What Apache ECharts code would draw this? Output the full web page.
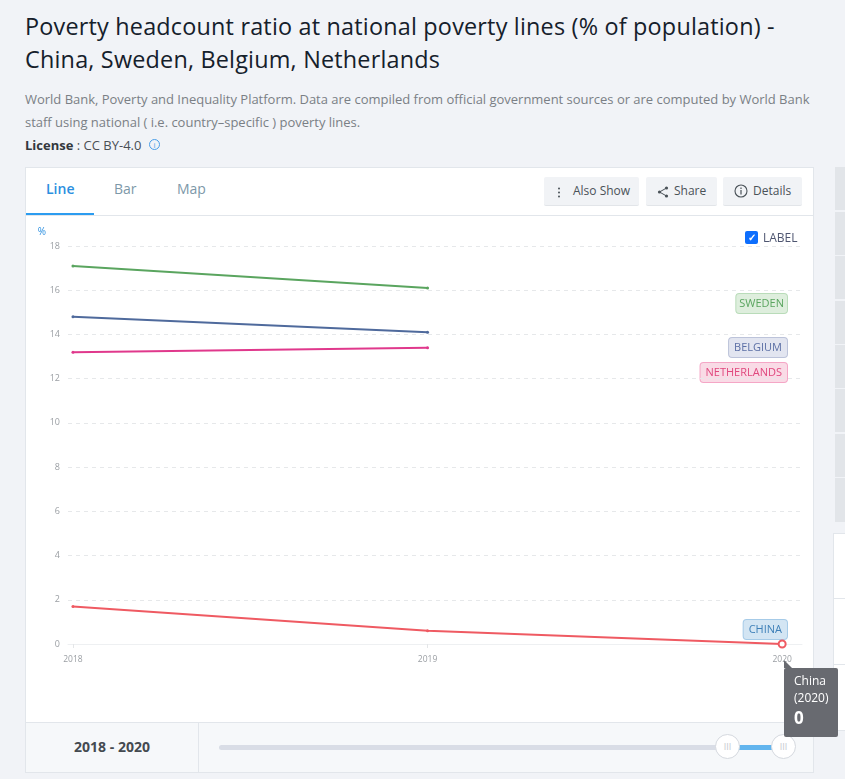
<!DOCTYPE html>
<html lang="en">
  <head>
    <meta charset="UTF-8" />
    <title>Poverty headcount ratio</title>
    <script src="https://cdn.jsdelivr.net/npm/echarts@6/dist/echarts.min.js"></script>
    <style>
      html, body {
        margin: 0;
        width: 845px;
        height: 779px;
        overflow: hidden;
        background: #f1f3f7;
        font-family: "Open Sans", sans-serif;
      }

      div, h1, p, span, svg { position: absolute; margin: 0; white-space: nowrap; }

      #title {
        left: 25px;
        top: 10px;
        font-size: 23.4px;
        font-weight: 500;
        line-height: 33px;
        color: #15202b;
        letter-spacing: 0.2px;
      }

      #source {
        left: 25px;
        top: 88px;
        font-size: 13px;
        line-height: 23px;
        color: #7a7f85;
        letter-spacing: -0.015px;
      }

      #license { left: 25px; top: 136px; font-size: 13px; line-height: 18px; color: #4a4f55; }
      #license b { color: #33383d; }

      #infoIcon {
        left: 149px;
        top: 139px;
        width: 9px;
        height: 9px;
        border: 1px solid #4a9ee8;
        border-radius: 50%;
        color: #4a9ee8;
        font-size: 8px;
        line-height: 9px;
        text-align: center;
      }

      #card {
        left: 25px;
        top: 167px;
        width: 787px;
        height: 604px;
        background: #fff;
        border: 1px solid #e2e6eb;
      }

      .tab { top: 11px; font-size: 14px; line-height: 20px; color: #7d98a8; }
      #tabLine { left: 0; top: 47px; width: 787px; height: 1px; background: #e2e6eb; }
      #tabActive { left: 0; top: 45px; width: 68px; height: 2px; background: #2b9cf0; }

      .btn {
        top: 9px;
        height: 28px;
        background: #f1f3f6;
        border-bottom: 1px solid #e2e5e9;
        border-radius: 2px;
        font-size: 12px;
        line-height: 28px;
        color: #4a5258;
      }
      .btn span { top: 0; }

      #labelBox {
        left: 719px;
        top: 63px;
        width: 13px;
        height: 13px;
        background: #0d6efd;
        border-radius: 2px;
        color: #fff;
        font-size: 10px;
        line-height: 13px;
        text-align: center;
        font-weight: 700;
      }
      #labelText { left: 737px; top: 61px; font-size: 12px; line-height: 17px; color: #4e5570; }

      #chart { left: 0; top: 48px; width: 787px; height: 506px; }

      #footer {
        left: 0;
        top: 554px;
        width: 787px;
        height: 49px;
        background: #f6f8fa;
        border-top: 1px solid #e2e6eb;
      }
      #range {
        left: 0;
        top: 0;
        width: 172px;
        height: 49px;
        border-right: 1px solid #e2e6eb;
        text-align: center;
        font-size: 14px;
        font-weight: 700;
        line-height: 48px;
        color: #444a50;
      }
      #track { left: 193px; top: 22px; width: 553px; height: 5px; background: #d9dde6; border-radius: 3px; }
      #trackOn { left: 712px; top: 22px; width: 45px; height: 5px; background: #62b5ee; }
      .handle {
        top: 11px;
        width: 23px;
        height: 23px;
        background: #fff;
        border: 1px solid #d5d9df;
        border-radius: 50%;
        color: #c4c8ce;
        font-size: 9px;
        line-height: 23px;
        text-align: center;
      }

      .side { left: 835px; width: 10px; height: 43px; background: #e2e5e9; }
      .sideBox { left: 833px; width: 12px; background: #fff; border: 1px solid #e2e6eb; }
    </style>
  </head>

  <body>
    <h1 id="title">Poverty headcount ratio at national poverty lines (% of population) -<br />China, Sweden, Belgium, Netherlands</h1>
    <p id="source">World Bank, Poverty and Inequality Platform. Data are compiled from official government sources or are computed by World Bank<br />staff using national ( i.e. country–specific ) poverty lines.</p>
    <p id="license"><b>License</b> : CC BY-4.0</p>
    <div id="infoIcon">i</div>

    <div class="side" style="top: 167px"></div>
    <div class="side" style="top: 212px"></div>
    <div class="side" style="top: 256px"></div>
    <div class="side" style="top: 301px"></div>
    <div class="side" style="top: 345px"></div>
    <div class="side" style="top: 389px"></div>
    <div class="side" style="top: 434px"></div>
    <div class="side" style="top: 478px; height: 44px"></div>
    <div class="sideBox" style="top: 533px; height: 64px"></div>
    <div class="sideBox" style="top: 598px; height: 65px"></div>
    <div class="sideBox" style="top: 664px; height: 65px"></div>

    <div id="card">
      <span class="tab" style="left: 20px; color: #2b8fe0; font-weight: 600">Line</span>
      <span class="tab" style="left: 88px">Bar</span>
      <span class="tab" style="left: 151px">Map</span>
      <div id="tabLine"></div>
      <div id="tabActive"></div>
      <div class="btn" style="left: 518px; width: 95px">
        <svg style="left: 13px; top: 10px" width="4" height="11"><circle cx="2" cy="1.5" r="1" fill="#4a5258" /><circle cx="2" cy="5.5" r="1" fill="#4a5258" /><circle cx="2" cy="9.5" r="1" fill="#4a5258" /></svg>
        <span style="left: 29px">Also Show</span>
      </div>
      <div class="btn" style="left: 620px; width: 71px">
        <svg style="left: 11px; top: 9px" width="12" height="12"><path d="M9.5 2 L2.5 6 L9.5 10" fill="none" stroke="#4a5258" stroke-width="1" /><circle cx="9.5" cy="2" r="1.6" fill="#4a5258" /><circle cx="2.5" cy="6" r="1.6" fill="#4a5258" /><circle cx="9.5" cy="10" r="1.6" fill="#4a5258" /></svg>
        <span style="left: 28px">Share</span>
      </div>
      <div class="btn" style="left: 697px; width: 79px">
        <svg style="left: 11px; top: 7px" width="14" height="14"><circle cx="7" cy="7" r="6" fill="none" stroke="#4a5258" stroke-width="1.1" /><path d="M7 6 V10.5 M7 3.5 V5" stroke="#4a5258" stroke-width="1.2" /></svg>
        <span style="left: 30px">Details</span>
      </div>

      <div id="chart"></div>

      <div id="labelBox">✓</div>
      <span id="labelText">LABEL</span>

      <div id="footer">
        <div id="range">2018 - 2020</div>
        <div id="track"></div>
        <div id="trackOn"></div>
        <div class="handle" style="left: 689px">III</div>
        <div class="handle" style="left: 745px">III</div>
      </div>
    </div>

    <script>
      var years = [2018, 2019, 2020];
      var china = [1.7, 0.6, 0];
      var sweden = [17.1, 16.1, null];
      var belgium = [14.8, 14.1, null];
      var netherlands = [13.2, 13.4, null];
      var yTicks = [0, 2, 4, 6, 8, 10, 12, 14, 16, 18];

      var COLORS = { China: "#ef5a62", Sweden: "#5aa55f", Belgium: "#4f6a9c", Netherlands: "#e0388c" };

      var chart = echarts.init(document.getElementById("chart"));

      function pairs(values) {
        return values.map((v, i) => [years[i], v]);
      }

      function makeSeries(name, values) {
        return {
          name: name,
          type: "line",
          data: pairs(values),
          symbol: "circle",
          symbolSize: 3,
          showSymbol: true,
          connectNulls: false,
          silent: true,
          lineStyle: { color: COLORS[name], width: 2 },
          itemStyle: { color: COLORS[name] }
        };
      }

      // tag at the right edge of the plot, same look for all countries
      function tag(text, top, color, bg, border, pad) {
        return {
          type: "text",
          right: 25,
          top: top,
          style: {
            text: text,
            font: "11px 'Open Sans'",
            fill: color,
            backgroundColor: bg,
            borderColor: border,
            borderWidth: 1,
            borderRadius: 3,
            padding: [4, pad, 4, pad]
          }
        };
      }

      var seriesList = [
        makeSeries("Sweden", sweden),
        makeSeries("Belgium", belgium),
        makeSeries("Netherlands", netherlands),
        makeSeries("China", china)
      ];
      // hovered point on China 2020
      seriesList[3].data[2] = {
        value: [years[2], china[2]],
        symbolSize: 7,
        itemStyle: { color: "#fff", borderColor: COLORS.China, borderWidth: 2 }
      };

      chart.setOption({
        animation: false,
        textStyle: { fontFamily: "Open Sans" },
        grid: { left: 42, right: 11, top: 30, bottom: 78 },
        tooltip: {
          trigger: "item",
          alwaysShowContent: true,
          showDelay: 0,
          transitionDuration: 0,
          backgroundColor: "rgba(0,0,0,0)",
          borderWidth: 0,
          padding: 0,
          shadowBlur: 0,
          extraCssText: "box-shadow:none;",
          position: () => [758, 452],
          formatter: () =>
            '<div style="position:relative;width:54px;height:69px;background:#686a70;border-radius:2px;color:#fff;font:12px/17px \'Open Sans\'">' +
            '<div style="position:absolute;left:0;top:-8px;width:0;height:0;border-left:8px solid #686a70;border-top:8px solid transparent"></div>' +
            '<div style="position:absolute;left:10px;top:4px">China<br>(2020)</div>' +
            '<div style="position:absolute;left:10px;top:40px;font-size:17px;line-height:20px;font-weight:700">' +
            china[2] +
            "</div></div>"
        },
        xAxis: {
          type: "value",
          min: 2017.986,
          max: 2020.056,
          splitLine: { show: false },
          axisLine: { lineStyle: { color: "#eef0f2", width: 1 } },
          axisTick: { show: true, customValues: years, length: 4, lineStyle: { color: "#e4e6e8" } },
          axisLabel: {
            customValues: years,
            formatter: v => String(v),
            color: "#9a9ea3",
            fontSize: 8.5,
            margin: 11
          }
        },
        yAxis: {
          type: "value",
          min: 0,
          max: 18,
          interval: 2,
          name: "%",
          nameLocation: "end",
          nameGap: 9,
          nameTextStyle: { color: "#2b8fe0", fontSize: 10, align: "right", padding: [0, 22, 0, 0] },
          axisLine: { show: false },
          axisTick: { show: false },
          axisLabel: { color: "#9a9ea3", fontSize: 9, margin: 8, formatter: v => (yTicks.includes(v) ? String(v) : "") },
          splitLine: { lineStyle: { color: "#e6e8ea", type: [4, 4], width: 1 } }
        },
        series: seriesList,
        graphic: [
          tag("SWEDEN", 77, "#5aa55f", "#deeedd", "#b9dcb9", 3),
          tag("BELGIUM", 121, "#5b6fa5", "#e2e5f0", "#bcc3da", 5),
          tag("NETHERLANDS", 146, "#e0487e", "#f9dbe6", "#f5a6c6", 5),
          tag("CHINA", 403, "#3f80b8", "#d3e5f3", "#a6cbe8", 5)
        ]
      });

      chart.dispatchAction({ type: "showTip", seriesIndex: 3, dataIndex: 2 });
    </script>
  </body>
</html>
